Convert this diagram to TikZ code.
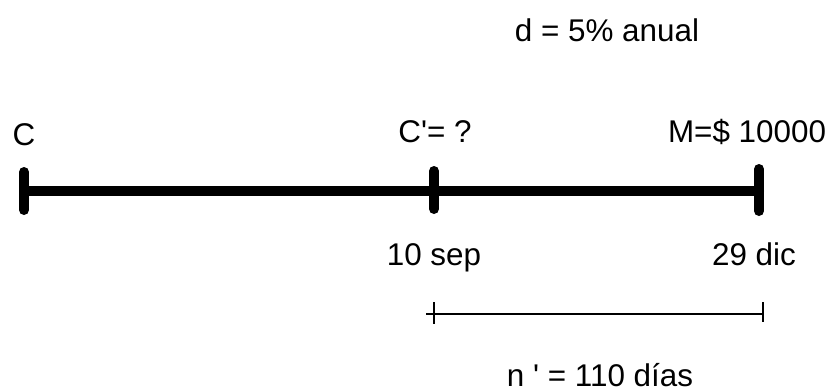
\documentclass[tikz,border=0pt]{standalone}
\usepackage{fontspec}
\setmainfont{Liberation Sans}
\begin{document}
\begin{tikzpicture}[x=0.5pt,y=-0.5pt,
  lbl/.style={anchor=base,inner sep=0pt,font=\fontsize{15.7pt}{18pt}\selectfont},
  thickline/.style={line width=5pt,line cap=round},
  thinline/.style={line width=0.9pt}]
\useasboundingbox (0,0) rectangle (838,390);
% main time line
\coordinate (a) at (24,191);
\coordinate (b) at (434,191);
\coordinate (c) at (759,191);
\draw[thickline] (a) -- (c);
\draw[thickline] ([yshift=9.5pt]a) -- ([yshift=-9.5pt]a);
\draw[thickline] ([yshift=10pt]b) -- ([yshift=-9pt]b);
\draw[thickline] ([yshift=11pt]c) -- ([yshift=-10pt]c);
% labels
\node[lbl] (d) at (607,42) {d = 5\% anual};
\node[lbl] (C) at (24,145) {C};
\node[lbl] (Cp) at (435,142) {C\textquotesingle= ?};
\node[lbl] (M) at (747,142) {M=\$ 10000};
\node[lbl] (s) at (434,265) {10 sep};
\node[lbl] (dic) at (754,265) {29 dic};
% interval
\coordinate (p) at (426,314);
\coordinate (q) at (434,314);
\coordinate (r) at (763,314);
\draw[thinline] (p) -- (r);
\draw[thinline] ([yshift=6pt]q) -- ([yshift=-5pt]q);
\draw[thinline] ([yshift=6pt]r) -- ([yshift=-4pt]r);
\node[lbl] (n) at (600,386) {n \textquotesingle{} = 110 días};
\end{tikzpicture}
\end{document}
